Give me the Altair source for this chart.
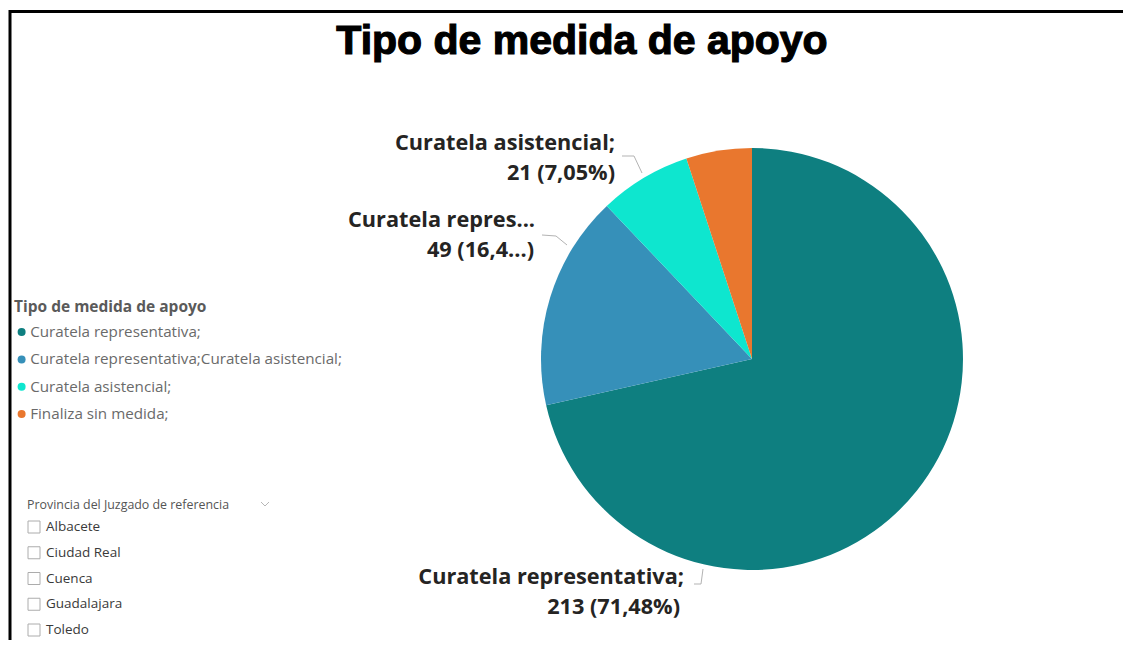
import altair as alt
import pandas as pd

# ---------------- data ----------------
TITLE = "Tipo de medida de apoyo"
CATEGORIES = [
    "Curatela representativa;",
    "Curatela representativa;Curatela asistencial;",
    "Curatela asistencial;",
    "Finaliza sin medida;",
]
COUNTS = [213, 49, 21, 15]
COLORS = ["#0E7F80", "#3690B9", "#0EE6CF", "#E9772E"]
LEGEND_TITLE = "Tipo de medida de apoyo"
SLICER_TITLE = "Provincia del Juzgado de referencia"
PROVINCIAS = ["Albacete", "Ciudad Real", "Cuenca", "Guadalajara", "Toledo"]

# ---------------- layout ----------------
W, H = 1115, 632
CX, CY, R = 742, 350, 211
LABEL_FONT = "Open Sans"
LABEL_SIZE = 21.7
UI_FONT = "Open Sans"

df = pd.DataFrame({"tipo": CATEGORIES, "n": COUNTS, "orden": list(range(len(CATEGORIES)))})
base = alt.Chart(df)
one = alt.Chart(pd.DataFrame({"k": [0]}))

color = alt.Color(
    "tipo:N",
    sort=CATEGORIES,
    scale=alt.Scale(domain=CATEGORIES, range=COLORS),
    legend=alt.Legend(
        title=LEGEND_TITLE,
        orient="none",
        legendX=4,
        legendY=291,
        padding=0,
        titleFont=UI_FONT,
        titleFontSize=15.5,
        titleFontWeight="bold",
        titleColor="#5a5a5a",
        titlePadding=9,
        titleLimit=500,
        labelFont=UI_FONT,
        labelFontSize=15.2,
        labelColor="#6a6a6a",
        labelLimit=600,
        labelOffset=1,
        symbolType="circle",
        symbolSize=64,
        symbolStrokeWidth=0,
        symbolOffset=0,
        rowPadding=11.3,
    ),
)

pie = base.mark_arc(outerRadius=R).encode(
    theta=alt.Theta("n:Q", stack=True),
    color=color,
    order=alt.Order("orden:Q"),
    x=alt.value(CX),
    y=alt.value(CY),
)

lab = base.transform_joinaggregate(total="sum(n)").transform_calculate(
    pct="replace(format(datum.n / datum.total * 100, '.2f'), '.', ',')",
).transform_calculate(
    line2="datum.n + ' (' + datum.pct + '%)'"
).transform_calculate(
    # Power BI cuts this long label inside the percentage
    line2cut="slice(datum.line2, 0, 8) + '...)'"
)


def label(cat, field, x, y, limit=None):
    kw = dict(align="right", baseline="alphabetic", font=LABEL_FONT,
              fontSize=LABEL_SIZE, fontWeight="bold", color="#252423")
    if limit:
        kw.update(limit=limit, ellipsis="...")
    return lab.transform_filter(alt.datum.tipo == cat).mark_text(**kw).encode(
        text=alt.Text(f"{field}:N"), x=alt.value(x), y=alt.value(y)
    )


def seg(x1, y1, x2, y2, col="#b3b3b3", w=1.0):
    return one.mark_rule(color=col, strokeWidth=w).encode(
        x=alt.value(x1), y=alt.value(y1), x2=alt.value(x2), y2=alt.value(y2)
    )


labels = [
    label(CATEGORIES[2], "tipo", 605, 141),
    label(CATEGORIES[2], "line2", 605, 171),
    label(CATEGORIES[1], "tipo", 525, 218, limit=196),
    label(CATEGORIES[1], "line2cut", 524, 248),
    label(CATEGORIES[0], "tipo", 674, 575),
    label(CATEGORIES[0], "line2", 670, 605),
]

leaders = [
    seg(632, 164, 624, 147), seg(624, 147, 612, 147),
    seg(557, 236, 546, 227), seg(546, 227, 532, 226),
    seg(693, 560, 691, 575), seg(691, 575, 684, 575),
]

title = one.mark_text(
    align="center", baseline="alphabetic", font="Liberation Sans",
    fontSize=41, fontWeight="bold", color="#000000", stroke="#000000", strokeWidth=1.2,
).encode(text=alt.value(TITLE), x=alt.value(572), y=alt.value(45))

frame = [
    one.mark_rule(color="#000000", strokeWidth=3).encode(
        x=alt.value(0), x2=alt.value(W), y=alt.value(2.5)),
    one.mark_rule(color="#000000", strokeWidth=3).encode(
        x=alt.value(0), y=alt.value(1), y2=alt.value(H)),
]

# slicer
sl = alt.Chart(pd.DataFrame({"prov": PROVINCIAS}))
yenc = alt.Y("prov:N", sort=PROVINCIAS, axis=None,
             scale=alt.Scale(range=[518, 621], padding=0))
boxes = sl.mark_square(size=144, filled=False, stroke="#8a8a8a", strokeWidth=1).encode(
    x=alt.value(24), y=yenc)
names = sl.mark_text(align="left", baseline="middle", font=UI_FONT, fontSize=13.5,
                     color="#3a3a3a").encode(x=alt.value(36), y=yenc, text="prov:N")
slicer_title = one.mark_text(align="left", baseline="alphabetic", font=UI_FONT,
                             fontSize=12.4, color="#555555").encode(
    text=alt.value(SLICER_TITLE), x=alt.value(17), y=alt.value(500))
chevron = one.mark_point(shape="M-1,-0.5L0,0.5L1,-0.5", size=64, filled=False,
                         color="#9a9a9a", strokeWidth=1).encode(
    x=alt.value(255), y=alt.value(495))

chart = alt.layer(
    pie, *leaders, *labels, title, *frame, boxes, names, slicer_title, chevron
).properties(
    width=W, height=H,
    autosize=alt.AutoSizeParams(type="fit", contains="padding"),
    padding=0, background="white",
).configure_view(stroke=None)

chart.save("out.html", embed_options={"renderer": "svg", "actions": False})
